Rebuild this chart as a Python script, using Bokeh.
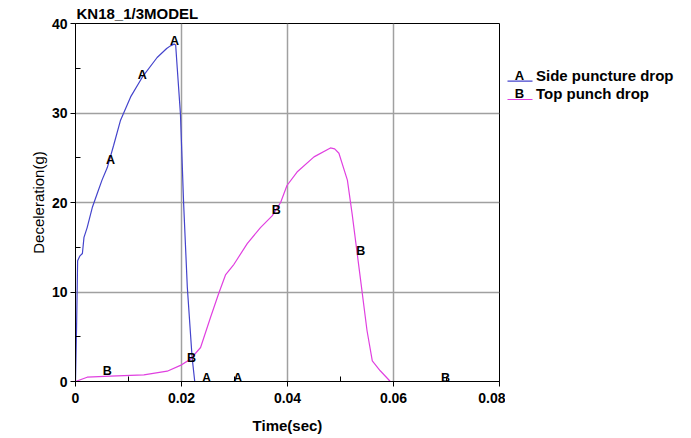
from bokeh.plotting import figure
from bokeh.layouts import row
from bokeh.models import Range1d, FixedTicker
from bokeh.core.properties import value
from bokeh.embed import file_html
from bokeh.resources import INLINE

# ---- data ----
a_t = [0, 0.0002, 0.0004, 0.0008, 0.0013, 0.0016, 0.0022, 0.0032, 0.0041, 0.005, 0.006,
       0.0072, 0.0085, 0.0104, 0.0126, 0.0154, 0.0172, 0.0179, 0.0186, 0.0189, 0.0192,
       0.0198, 0.0204, 0.0211, 0.022, 0.0225, 0.030]
a_g = [0, 6.0, 13.5, 14.0, 14.3, 16.1, 17.2, 19.5, 21.0, 22.5, 23.9,
       26.4, 29.2, 31.8, 34.0, 36.2, 37.2, 37.5, 37.7, 37.6, 35.0,
       29.9, 19.9, 10.5, 2.7, 0, 0]

b_t = [0, 0.0022, 0.0066, 0.0129, 0.0173, 0.0198, 0.0217, 0.0236, 0.0255, 0.027,
       0.0283, 0.0299, 0.0324, 0.0349, 0.0371, 0.0387, 0.0399, 0.0418, 0.045, 0.0481,
       0.0489, 0.0497, 0.0513, 0.0522, 0.0538, 0.055, 0.056, 0.0575, 0.0594, 0.08]
b_g = [0, 0.48, 0.6, 0.75, 1.15, 1.8, 2.5, 3.8, 7.2, 9.8,
       11.9, 13.1, 15.4, 17.2, 18.5, 20.0, 21.9, 23.4, 25.1, 26.1,
       26.0, 25.5, 22.5, 18.7, 11.3, 5.7, 2.3, 1.2, 0, 0]

a_mark_t = [0.0066, 0.0126, 0.0187, 0.0247, 0.0306]
a_mark_g = [24.7, 34.3, 38.1, 0.4, 0.4]
b_mark_t = [0.0060, 0.0219, 0.0379, 0.0538, 0.0698]
b_mark_g = [1.12, 2.57, 19.2, 14.6, 0.4]

series_letters = ["A", "B"]
series_names = ["Side puncture drop", "Top punch drop"]
series_colors = ["#4444CC", "#E040E0"]

x_ticks = [0, 0.02, 0.04, 0.06, 0.08]
x_tick_labels = ["0", "0.02", "0.04", "0.06", "0.08"]
x_minor = [0.01, 0.03, 0.05, 0.07]
y_ticks = [0, 10, 20, 30, 40]
y_tick_labels = ["0", "10", "20", "30", "40"]
y_minor = [5, 15, 25, 35]

FONT = "Liberation Sans"

p = figure(width=505, height=438, output_backend="svg", toolbar_location=None,
           x_range=Range1d(0, 0.08), y_range=Range1d(0, 40),
           min_border_left=75, min_border_right=6, min_border_top=23, min_border_bottom=57,
           title="KN18_1/3MODEL")
p.background_fill_color = "white"
p.border_fill_color = "white"
p.outline_line_color = "black"
p.outline_line_width = 1

p.title.text_font = FONT
p.title.text_font_size = "15px"
p.title.text_font_style = "bold"
p.title.text_color = "black"
p.title.align = "left"
p.title.offset = 1
p.title.standoff = 3

p.xaxis.ticker = FixedTicker(ticks=x_ticks, minor_ticks=x_minor)
p.yaxis.ticker = FixedTicker(ticks=y_ticks, minor_ticks=y_minor)
p.xaxis.major_label_overrides = {t: l for t, l in zip(x_ticks, x_tick_labels)}
p.yaxis.major_label_overrides = {t: l for t, l in zip(y_ticks, y_tick_labels)}
p.xaxis.axis_label = "Time(sec)"
p.yaxis.axis_label = "Deceleration(g)"

for ax in (p.xaxis, p.yaxis):
    ax.axis_line_color = "black"
    ax.axis_line_width = 1
    ax.major_tick_line_color = "black"
    ax.minor_tick_line_color = "black"
    ax.major_tick_out = 5
    ax.major_tick_in = 0
    ax.minor_tick_in = 5
    ax.minor_tick_out = 0
    ax.major_label_text_font = FONT
    ax.major_label_text_font_size = "14px"
    ax.major_label_text_font_style = "bold"
    ax.major_label_text_color = "black"
    ax.axis_label_text_font = FONT
    ax.axis_label_text_font_size = "15px"
    ax.axis_label_text_color = "black"
p.xaxis.axis_label_text_font_style = "bold"
p.yaxis.axis_label_text_font_style = "normal"
p.xaxis.major_label_standoff = 6
p.xaxis.axis_label_standoff = 11
p.yaxis.major_label_standoff = 3
p.yaxis.axis_label_standoff = 2

p.xgrid.grid_line_color = "#a0a0a0"
p.ygrid.grid_line_color = "#a0a0a0"
p.xgrid.grid_line_width = 1.5
p.ygrid.grid_line_width = 1.5

p.line(a_t, a_g, line_color=series_colors[0], line_width=1.2)
p.line(b_t, b_g, line_color=series_colors[1], line_width=1.2)

p.text(x=a_mark_t, y=a_mark_g, text=[series_letters[0]] * len(a_mark_t),
       text_font=value(FONT), text_font_size="12.5px", text_font_style="bold",
       text_align="center", text_baseline="middle", text_color="black")
p.text(x=b_mark_t, y=b_mark_g, text=[series_letters[1]] * len(b_mark_t),
       text_font=value(FONT), text_font_size="12.5px", text_font_style="bold",
       text_align="center", text_baseline="middle", text_color="black")

# ---- legend panel to the right; its frame lines up with the main frame,
# so the ranges are set to page pixel coordinates (x 505..691, y 23..381) ----
leg = figure(width=186, height=438, output_backend="svg", toolbar_location=None,
             x_range=Range1d(505, 691), y_range=Range1d(381, 23), title=None,
             min_border=0, min_border_left=0, min_border_right=0,
             min_border_top=0, min_border_bottom=0,
             x_axis_location=None, y_axis_location=None)
leg.grid.visible = False
leg.outline_line_color = None
leg.background_fill_color = "white"
leg.border_fill_color = "white"

line_y = [80.7, 99]
text_y = [75, 93]
leg.segment(x0=[507, 507], y0=line_y, x1=[532, 532], y1=line_y,
            line_color=series_colors, line_width=1.2)
leg.text(x=[519, 519], y=text_y, text=series_letters,
         text_font=value(FONT), text_font_size="13px", text_font_style="bold",
         text_align="center", text_baseline="middle", text_color="black")
leg.text(x=[535.5, 535.5], y=text_y, text=series_names,
         text_font=value(FONT), text_font_size="15px", text_font_style="bold",
         text_align="left", text_baseline="middle", text_color="black")

layout = row(p, leg, spacing=0)
open("out.html", "w").write(file_html(layout, INLINE))
